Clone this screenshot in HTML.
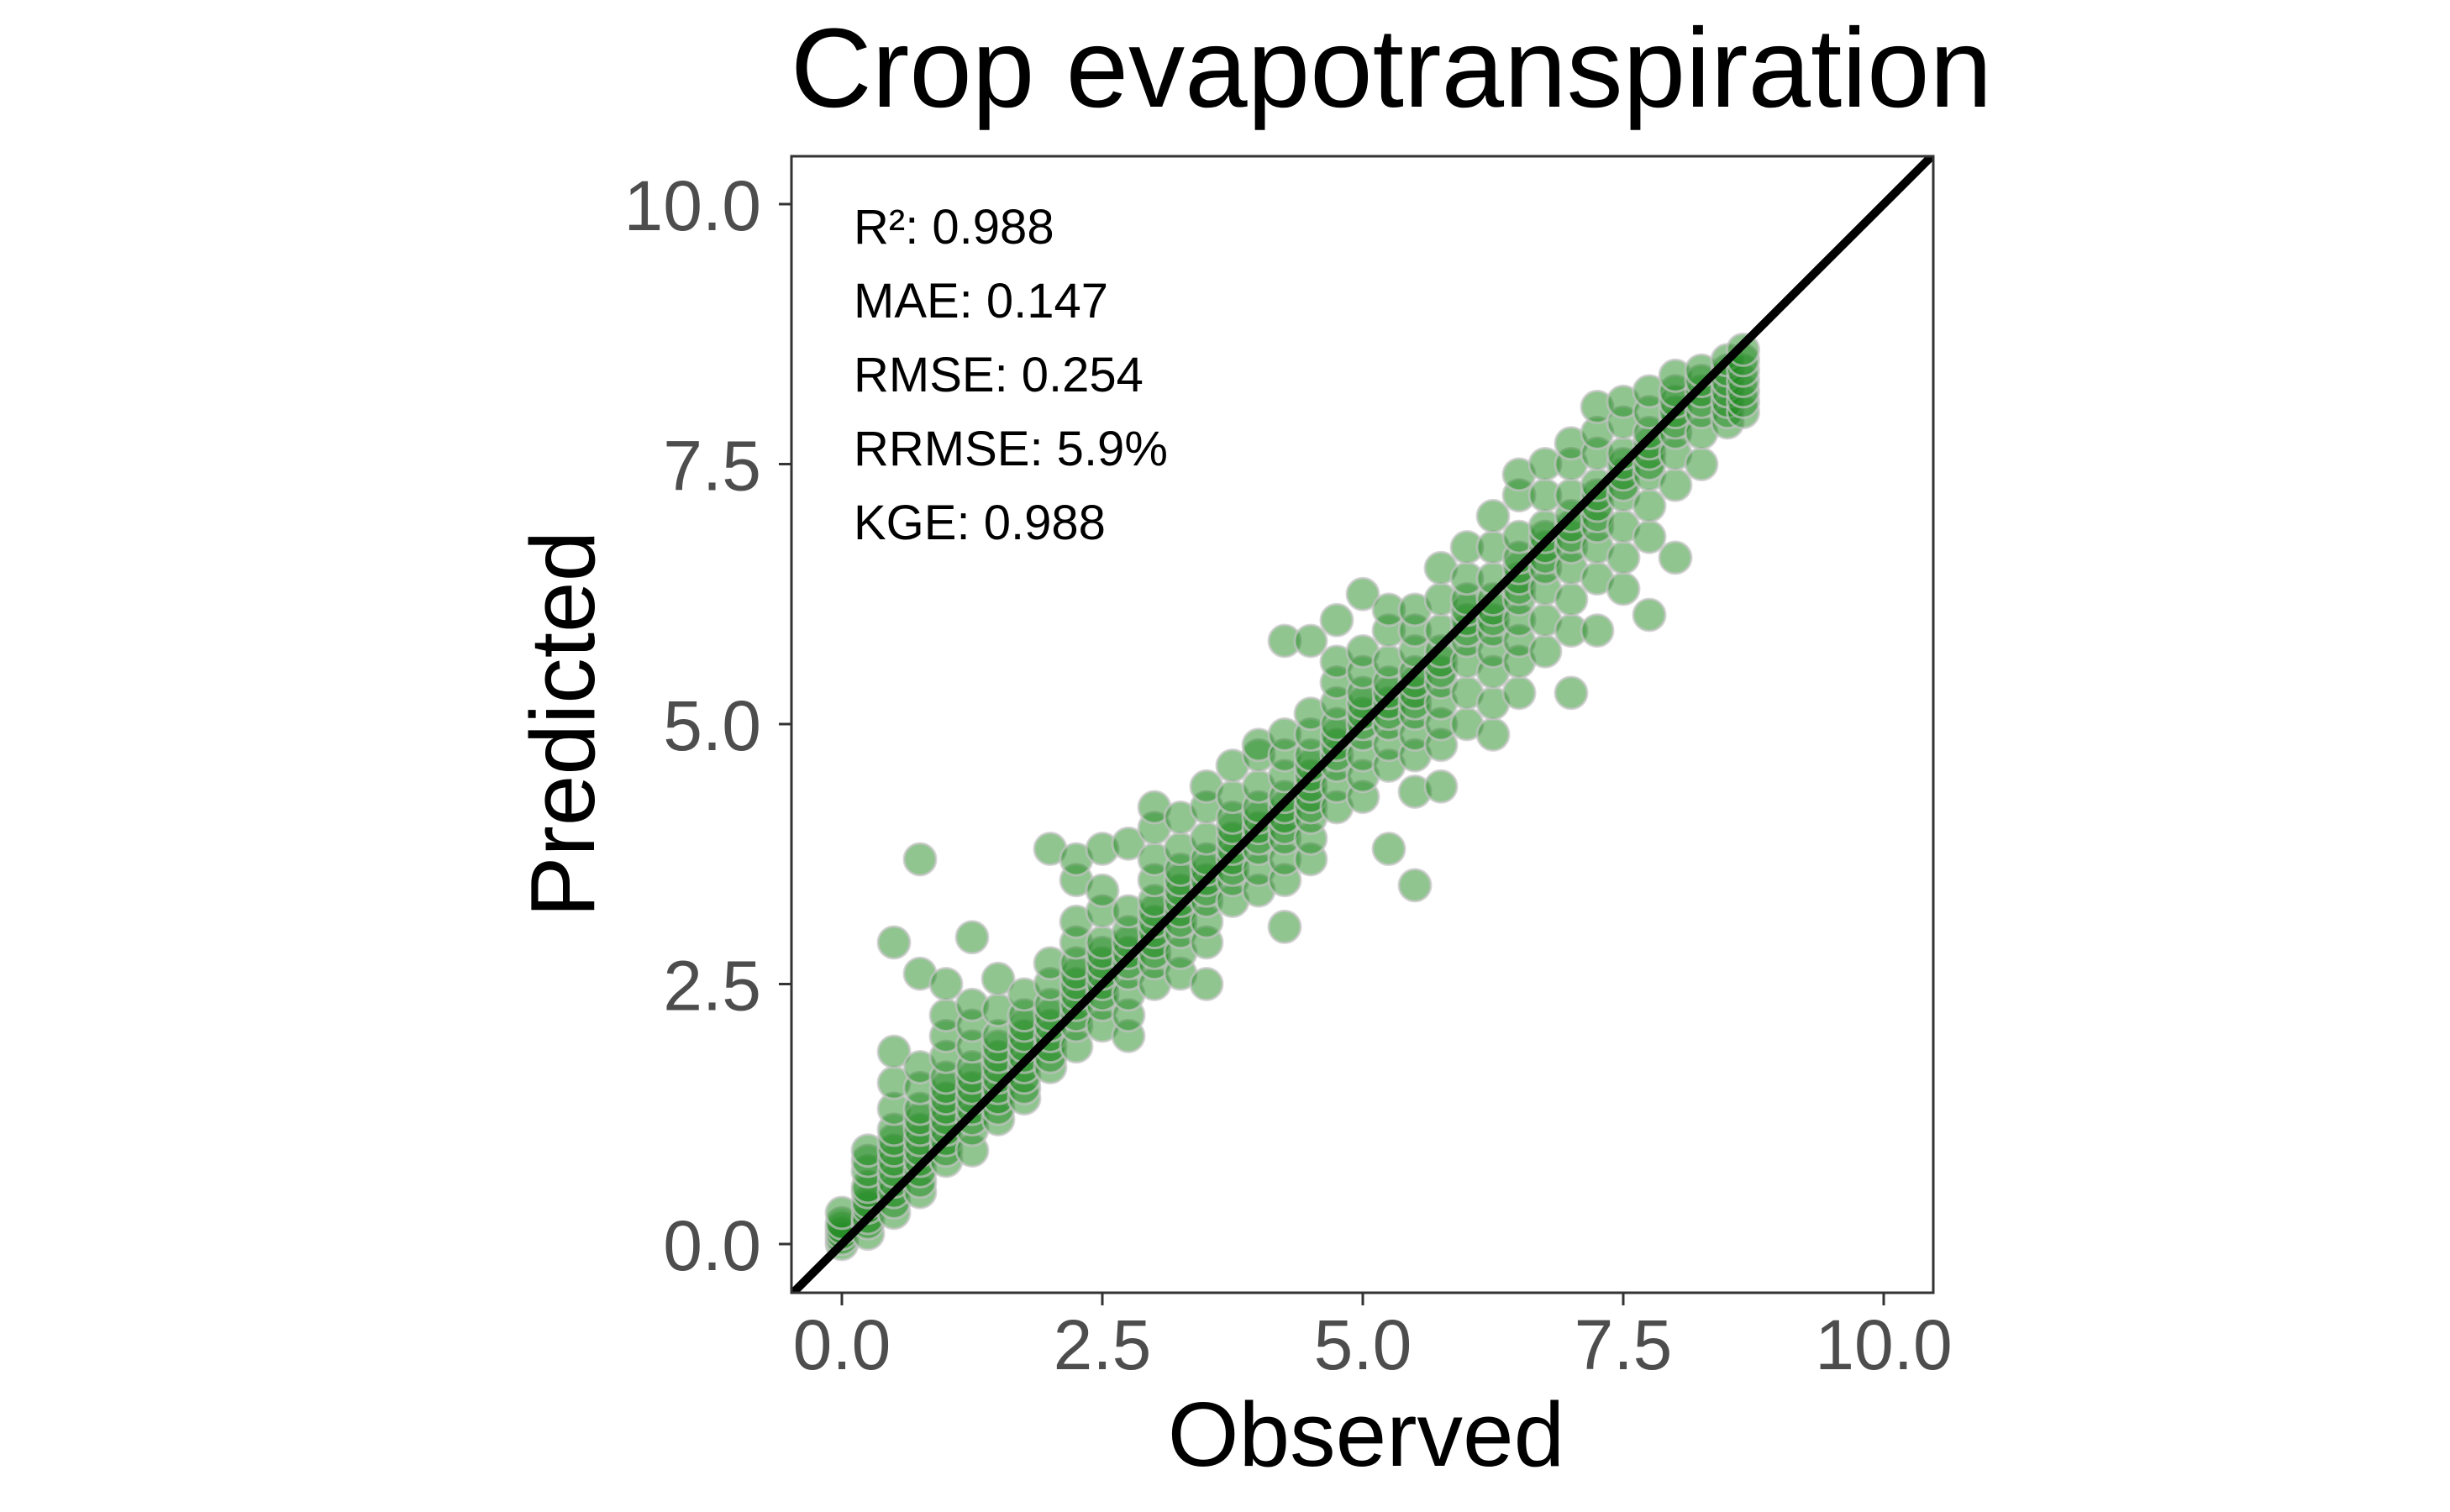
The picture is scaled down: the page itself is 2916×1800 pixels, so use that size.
<!DOCTYPE html>
<html><head><meta charset="utf-8"><style>
html,body{margin:0;padding:0;background:#fff;}
svg{display:block;font-family:"Liberation Sans",Arial,sans-serif;}
</style></head><body>
<svg id="chart" width="2916" height="1800" viewBox="0 0 2916 1800" xmlns="http://www.w3.org/2000/svg">
<rect width="2916" height="1800" fill="#fff"/>
<text x="1656" y="127" font-size="134" text-anchor="middle" fill="#000">Crop evapotranspiration</text>
<rect x="942" y="186" width="1359" height="1353" fill="#fff"/>
<defs><clipPath id="clip"><rect x="942" y="186" width="1359" height="1353"/></clipPath></defs>
<g id="points" clip-path="url(#clip)"></g>
<g id="line" clip-path="url(#clip)"></g>
<rect x="942" y="186" width="1359" height="1353" fill="none" stroke="#333" stroke-width="3"/>
<g id="axes"></g>
<g font-size="58" fill="#000">
<text x="1016" y="290">R²: 0.988</text>
<text x="1016" y="378">MAE: 0.147</text>
<text x="1016" y="466">RMSE: 0.254</text>
<text x="1016" y="554">RRMSE: 5.9%</text>
<text x="1016" y="642">KGE: 0.988</text>
</g>
<text x="1626" y="1745" font-size="109" text-anchor="middle" fill="#000">Observed</text>
<text transform="translate(707,862) rotate(-90)" font-size="109" text-anchor="middle" fill="#000">Predicted</text>
</svg>
<script>
const xTicks=[0,2.5,5,7.5,10];
const yTicks=[0,2.5,5,7.5,10];
const tickLabels=["0.0","2.5","5.0","7.5","10.0"];
const obsColumns=[0,0.25,0.5,0.75,1.0,1.25,1.5,1.75,2.0,2.25,2.5,2.75,3.0,3.25,3.5,3.75,4.0,4.25,4.5,4.75,5.0,5.25,5.5,5.75,6.0,6.25,6.5,6.75,7.0,7.25,7.5,7.75,8.0,8.25,8.5,8.65];
const predByColumn=[
[0,0.05,0.1,0.15,0.2,0.3],
[0.1,0.2,0.25,0.35,0.4,0.5,0.55,0.7,0.8,0.9],
[0.3,0.4,0.5,0.6,0.7,0.8,0.9,1.0,1.1,1.3,1.55,1.85,2.9],
[0.5,0.6,0.7,0.8,0.9,1.0,1.1,1.2,1.3,1.5,1.7,2.6,3.7],
[0.8,0.9,1.0,1.1,1.2,1.3,1.4,1.5,1.6,1.8,2.0,2.2,2.5],
[0.9,1.1,1.2,1.3,1.4,1.5,1.6,1.7,1.9,2.1,2.3,2.95],
[1.2,1.3,1.4,1.5,1.6,1.7,1.8,1.9,2.0,2.25,2.55],
[1.4,1.5,1.6,1.7,1.8,1.9,2.0,2.1,2.2,2.4],
[1.7,1.8,1.9,2.0,2.1,2.2,2.3,2.5,2.7,3.8],
[1.9,2.1,2.2,2.3,2.4,2.5,2.6,2.7,2.9,3.1,3.5,3.7],
[2.1,2.3,2.4,2.5,2.6,2.7,2.8,2.9,3.2,3.4,3.8],
[2.0,2.2,2.4,2.6,2.7,2.8,2.9,3.0,3.2,3.85],
[2.5,2.7,2.8,2.9,3.0,3.1,3.2,3.3,3.5,3.7,4.0,4.2],
[2.6,2.8,3.0,3.1,3.2,3.3,3.4,3.5,3.6,3.8,4.1],
[2.5,2.9,3.1,3.3,3.4,3.5,3.6,3.7,3.9,4.2,4.4],
[3.3,3.5,3.6,3.7,3.8,3.9,4.0,4.1,4.3,4.6],
[3.4,3.6,3.8,3.9,4.0,4.1,4.2,4.4,4.7,4.8],
[3.05,3.5,3.7,3.9,4.0,4.1,4.2,4.3,4.5,4.7,4.9,5.8],
[3.7,3.9,4.1,4.2,4.3,4.4,4.5,4.6,4.7,4.9,5.1,5.8],
[4.2,4.4,4.6,4.7,4.8,4.9,5.0,5.2,5.4,5.6,6.0],
[4.3,4.5,4.7,4.9,5.0,5.1,5.2,5.3,5.5,5.7,6.25],
[3.8,4.6,4.8,5.0,5.1,5.2,5.3,5.4,5.6,5.9,6.1],
[3.45,4.35,4.7,4.9,5.1,5.2,5.3,5.4,5.5,5.7,5.9,6.1],
[4.4,4.8,5.0,5.2,5.4,5.5,5.6,5.7,5.9,6.2,6.5],
[5.0,5.3,5.6,5.8,5.9,6.0,6.1,6.2,6.4,6.7],
[4.9,5.2,5.5,5.7,5.9,6.0,6.1,6.2,6.4,6.7,7.0],
[5.3,5.6,5.8,6.0,6.2,6.3,6.4,6.5,6.6,6.8,7.2,7.4],
[5.7,6.0,6.3,6.5,6.6,6.7,6.8,6.9,7.2,7.5],
[5.3,5.9,6.2,6.5,6.7,6.8,6.9,7.0,7.2,7.5,7.7],
[5.9,6.4,6.7,6.9,7.0,7.1,7.2,7.3,7.6,7.8,8.05],
[6.3,6.6,6.9,7.2,7.3,7.4,7.5,7.6,7.9,8.1],
[6.05,6.8,7.1,7.4,7.5,7.6,7.7,7.8,8.0,8.2],
[6.6,7.3,7.6,7.8,7.9,8.0,8.1,8.2,8.35],
[7.5,7.8,8.0,8.1,8.2,8.3,8.4],
[7.9,8.0,8.1,8.2,8.3,8.4,8.5],
[8.0,8.1,8.2,8.3,8.4,8.5,8.6]
];
const refLine=[-0.5,10.5];

const NS="http://www.w3.org/2000/svg";
function xs(v){return 1002+v*124;}
function ys(v){return 1481-v*123.8;}
const pts=document.getElementById('points');
obsColumns.forEach(function(o,i){
  predByColumn[i].forEach(function(p){
    const c=document.createElementNS(NS,'circle');
    c.setAttribute('cx',xs(o));c.setAttribute('cy',ys(p));c.setAttribute('r',19);
    c.setAttribute('fill','rgba(34,139,34,0.5)');
    c.setAttribute('stroke','rgba(195,195,195,0.7)');c.setAttribute('stroke-width','3');
    
    
    pts.appendChild(c);
  });
});
const ln=document.createElementNS(NS,'line');
ln.setAttribute('x1',xs(refLine[0]));ln.setAttribute('y1',ys(refLine[0]));
ln.setAttribute('x2',xs(refLine[1]));ln.setAttribute('y2',ys(refLine[1]));
ln.setAttribute('stroke','#000');ln.setAttribute('stroke-width','10');


document.getElementById('line').appendChild(ln);
const ax=document.getElementById('axes');
xTicks.forEach(function(t,i){
  const l=document.createElementNS(NS,'line');
  l.setAttribute('x1',xs(t));l.setAttribute('x2',xs(t));l.setAttribute('y1',1539);l.setAttribute('y2',1554);
  l.setAttribute('stroke','#333');l.setAttribute('stroke-width','3');
  
  
  ax.appendChild(l);
  const tx=document.createElementNS(NS,'text');
  tx.setAttribute('x',xs(t));tx.setAttribute('y',1630);tx.setAttribute('font-size','84');
  tx.setAttribute('text-anchor','middle');tx.setAttribute('fill','#4d4d4d');
  tx.textContent=tickLabels[i];
  
  
  ax.appendChild(tx);
});
yTicks.forEach(function(t,i){
  const l=document.createElementNS(NS,'line');
  l.setAttribute('x1',927);l.setAttribute('x2',942);l.setAttribute('y1',ys(t));l.setAttribute('y2',ys(t));
  l.setAttribute('stroke','#333');l.setAttribute('stroke-width','3');
  
  
  ax.appendChild(l);
  const tx=document.createElementNS(NS,'text');
  tx.setAttribute('x',906);tx.setAttribute('y',ys(t)+31);tx.setAttribute('font-size','84');
  tx.setAttribute('text-anchor','end');tx.setAttribute('fill','#4d4d4d');
  tx.textContent=tickLabels[i];
  
  
  ax.appendChild(tx);
});
</script>
</body></html>
